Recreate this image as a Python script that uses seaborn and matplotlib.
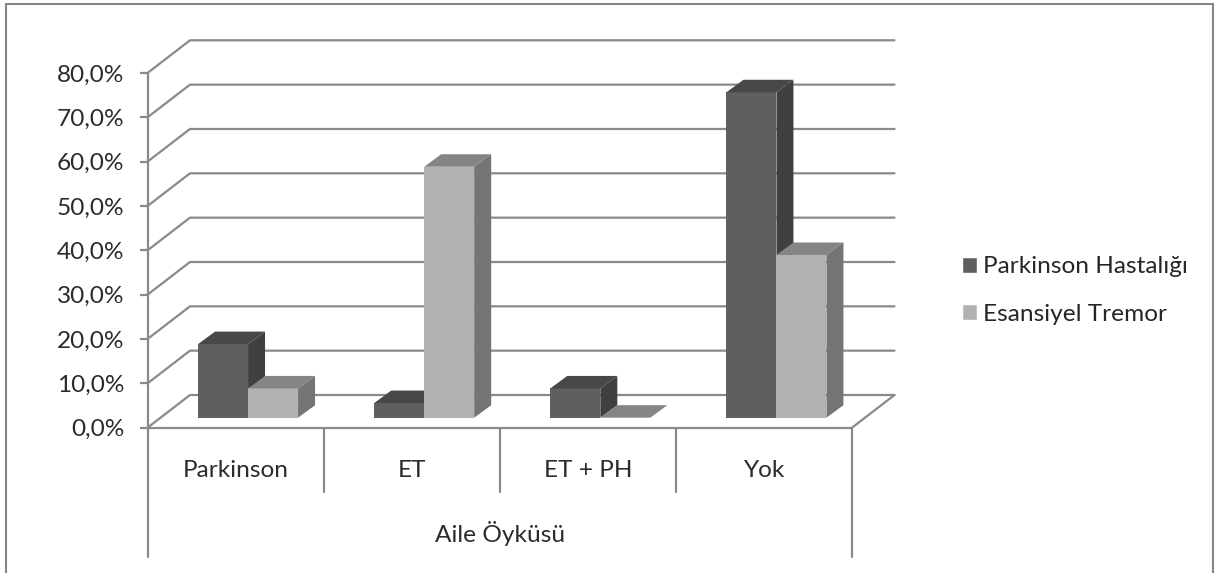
import matplotlib
matplotlib.use("Agg")
import matplotlib.pyplot as plt
import pandas as pd
import seaborn as sns
from matplotlib.patches import Polygon, Rectangle
from matplotlib.ticker import FuncFormatter

# Family history of patients, percent per diagnosis group
categories = ["Parkinson", "ET", "ET + PH", "Yok"]
parkinson_values = [16.6, 3.3, 6.6, 73.4]
tremor_values = [6.6, 56.6, 0.0, 36.7]
series_names = ["Parkinson Hastalığı", "Esansiyel Tremor"]
y_ticks = list(range(0, 90, 10))
group_label = "Aile Öyküsü"

W, H = 1219, 573
LEFT, RIGHT, Y0, Y80 = 147.5, 852.0, 427.7, 73.0
CAT_PX = (RIGHT - LEFT) / 4
PCT_PX = (Y0 - Y80) / 80
LINE = "#8a8a8a"
LINE_W = 1.6
FONT = ["Lato", "DejaVu Sans"]
TEXT_SIZE = 17.6


def px_x(px):
    return px / CAT_PX


def px_y(px):
    return px / PCT_PX


sns.set_theme(style="white")
plt.rcParams["font.family"] = FONT
plt.rcParams["text.color"] = "#262626"

fig = plt.figure(figsize=(W / 100, H / 100), dpi=100, facecolor="white")
ax = fig.add_axes([LEFT / W, 1 - Y0 / H, (RIGHT - LEFT) / W, (Y0 - Y80) / H])
ax.patch.set_visible(False)

frame = pd.DataFrame({
    "kategori": categories * 2,
    "tani": [series_names[0]] * 4 + [series_names[1]] * 4,
    "deger": parkinson_values + tremor_values,
})
front_colors = ["#5f5f5f", "#b2b2b2"]
top_colors = ["#484848", "#858585"]
side_colors = ["#404040", "#747474"]

sns.barplot(
    data=frame, x="kategori", y="deger", hue="tani", order=categories,
    hue_order=series_names, palette=front_colors, saturation=1,
    width=100 / CAT_PX, gap=0, ax=ax, legend=True, zorder=5,
)
ax.set_xlim(-0.5, 3.5)
ax.set_ylim(0, 80)

# Walls and floor of the oblique box
back_dx, back_dy = px_x(42.5), px_y(32.7)
for tick in y_ticks:
    ax.plot(
        [-0.5, -0.5 + back_dx, 3.5 + back_dx],
        [tick, tick + back_dy, tick + back_dy],
        color=LINE, lw=LINE_W, clip_on=False, zorder=1, solid_joinstyle="miter",
    )
ax.plot([3.5, 3.5 + back_dx], [0, back_dy], color=LINE, lw=LINE_W, clip_on=False, zorder=1)

# Shift each bar onto the floor and add its top and side faces
bar_dx, bar_dy = px_x(12.5), px_y(10.0)
depth_x, depth_y = px_x(17.0), px_y(12.5)
bars = [b for b in ax.patches if isinstance(b, Rectangle)][:8]
for index, bar in enumerate(bars):
    series = index // 4
    z = 5 + series * 2
    bar.set_x(bar.get_x() + bar_dx)
    bar.set_y(bar_dy)
    bar.set_zorder(z)
    bar.set_clip_on(False)
    bar.set_linewidth(0)
    x0, x1 = bar.get_x(), bar.get_x() + bar.get_width()
    y0, y1 = bar.get_y(), bar.get_y() + bar.get_height()
    ax.add_patch(Polygon(
        [(x0, y1), (x1, y1), (x1 + depth_x, y1 + depth_y), (x0 + depth_x, y1 + depth_y)],
        closed=True, facecolor=top_colors[series], edgecolor="none", clip_on=False, zorder=z,
    ))
    ax.add_patch(Polygon(
        [(x1, y0), (x1 + depth_x, y0 + depth_y), (x1 + depth_x, y1 + depth_y), (x1, y1)],
        closed=True, facecolor=side_colors[series], edgecolor="none", clip_on=False, zorder=z,
    ))

# Axis lines, including the multi-level category brackets below the floor
for side in ["top", "right", "bottom", "left"]:
    ax.spines[side].set_visible(False)
ax.plot([-0.5, 3.5], [0, 0], color=LINE, lw=LINE_W, clip_on=False, zorder=3)
for edge in (-0.5, 3.5):
    ax.plot([edge, edge], [-px_y(129), 0 if edge > 0 else 80],
            color=LINE, lw=LINE_W, clip_on=False, zorder=3)
for edge in (0.5, 1.5, 2.5):
    ax.plot([edge, edge], [-px_y(64.5), 0], color=LINE, lw=LINE_W, clip_on=False, zorder=3)

ax.set_yticks(y_ticks)
ax.yaxis.set_major_formatter(FuncFormatter(lambda v, _: f"{v:.1f}%".replace(".", ",")))
ax.tick_params(axis="y", length=5.8, width=LINE_W, color=LINE, pad=11, labelsize=TEXT_SIZE,
               left=True, labelcolor="#2b2b2b")
ax.set_xticks(range(4), categories)
ax.tick_params(axis="x", length=0, pad=23, labelsize=TEXT_SIZE, labelcolor="#2b2b2b")
ax.set_xlabel(group_label, fontsize=TEXT_SIZE, color="#2b2b2b", labelpad=29)
ax.set_ylabel("")

handles, labels = ax.get_legend_handles_labels()
legend = ax.legend(
    handles, labels, frameon=False, fontsize=TEXT_SIZE, loc="center left",
    bbox_to_anchor=(962 / W, 1 - 290.5 / H), bbox_transform=fig.transFigure,
    borderpad=0, borderaxespad=0,
    handlelength=0.6, handleheight=0.6, handletextpad=0.26, labelspacing=1.07,
    labelcolor="#262626",
)

# Chart-area border, open past the lower image edge
fig.add_artist(Rectangle(
    (6 / W, -10 / H), (1213 - 6) / W, (10 + H - 4) / H, transform=fig.transFigure,
    facecolor="none", edgecolor="#868686", lw=1.5,
))

fig.savefig("out.png", dpi=100, facecolor="white")
